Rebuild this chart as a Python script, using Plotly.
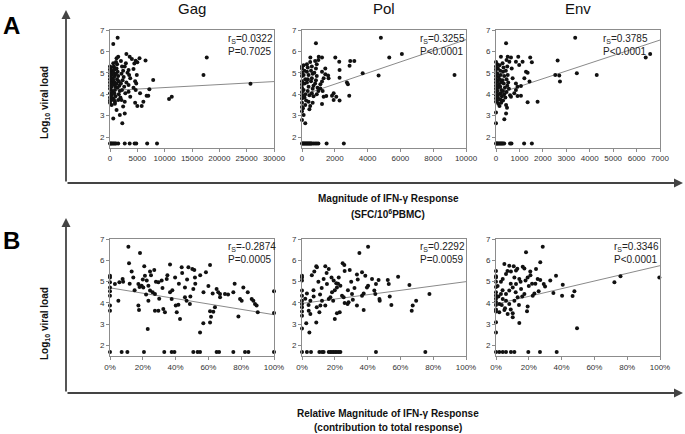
import plotly.graph_objects as go

W, H = 685, 434

# ---------------- data ----------------
panel_titles = ["Gag", "Pol", "Env"]

# Row A: absolute magnitude (SFC/10^6 PBMC) vs log10 viral load
gag_a_x = [1400, 600, 1500, 1200, 3000, 3600, 4000, 4700, 5400, 6500, 17700, 17100, 7900, 7200, 25700, 10800, 11300,
           6700, 7000, 6100, 5800, 5000, 4600, 5500, 4700, 4300, 4800, 4600, 4900, 3400, 4300, 4450, 5000, 2700,
           3500, 3700, 3400, 3400, 3700, 2700, 2400, 2700, 2250, 1800, 1200, 600, 300, 900, 1500, 2100,
           0, 0, 0, 0, 0, 0, 0, 0, 0, 0, 0, 0,
           200, 300, 400, 250, 350, 200, 400, 300, 200, 450, 300, 500, 200,
           600, 700, 800, 650, 900, 750, 600, 850, 700, 1000, 900, 800, 1000, 700, 900,
           1100, 1300, 1200, 1400, 1100, 1500, 1300, 1600, 1200, 1700, 1400, 1800, 1600, 1900,
           2000, 2200, 2400, 2100, 2500, 2300, 2000, 2600, 2200, 2800, 3000, 3200, 2900,
           0, 150, 300, 500, 700, 900, 1100, 1500, 2700, 3600, 4500, 4800, 6800, 8600]
gag_a_y = [6.64, 6.35, 5.75, 5.68, 5.88, 5.75, 5.64, 5.56, 5.68, 5.58, 5.72, 4.9, 4.66, 4.23, 4.49, 3.78, 3.88,
           3.93, 3.93, 3.65, 3.45, 3.45, 3.6, 4.04, 4.2, 4.3, 4.5, 4.6, 4.9, 5.13, 5.18, 5.44, 5.49, 5.29,
           4.9, 4.74, 4.43, 4.12, 3.88, 3.65, 3.42, 3.1, 2.64, 3.03, 3.26, 2.87, 3.5, 3.65, 3.73, 3.73,
           5.3, 5.15, 5.0, 4.85, 4.7, 4.55, 4.4, 4.25, 4.05, 3.85, 3.7, 3.6,
           5.25, 5.1, 5.0, 4.9, 4.75, 4.6, 4.5, 4.35, 4.2, 4.1, 3.95, 3.8, 3.7,
           5.45, 5.3, 5.15, 5.0, 4.9, 4.8, 4.65, 4.55, 4.45, 4.35, 4.2, 4.05, 3.9, 3.75, 3.55,
           5.5, 5.4, 5.2, 5.05, 4.95, 4.85, 4.7, 4.6, 4.5, 4.4, 4.3, 4.15, 4.0, 3.85,
           5.55, 5.3, 5.1, 4.95, 4.8, 4.65, 4.5, 4.35, 4.2, 4.05, 4.55, 5.0, 5.45,
           1.7, 1.7, 1.7, 1.7, 1.7, 1.7, 1.7, 1.7, 1.7, 1.7, 1.7, 1.7, 1.7, 1.7]

pol_a_x = [850, 4810, 6090, 5320, 9300, 4670, 3700, 3190, 2940, 2900, 2290, 2290, 2030, 2270, 2740, 2800, 2880,
           2290, 2090, 1930, 1930, 1830, 1480, 1320, 1220, 1260, 1120, 1120, 1220, 1320, 1620, 1420, 1220, 1420,
           1590, 1220, 1020, 510,
           0, 200, 100, 60,
           0, 0, 0, 0, 0, 0, 0, 0, 0, 0, 0, 0, 0,
           100, 150, 100, 200, 150, 100, 200, 150, 250, 200,
           300, 350, 300, 400, 350, 300, 400, 350, 450, 400, 500, 450,
           500, 600, 550, 650, 600, 550, 700, 650, 600, 700, 650,
           800, 900, 850, 750, 900, 850, 800, 950, 1000, 900, 1000,
           0, 50, 100, 150, 200, 250, 300, 350, 400, 450, 500, 550, 600, 700, 800, 900, 1000, 1500, 2550]
pol_a_y = [6.38, 6.64, 5.88, 5.72, 4.9, 4.87, 4.98, 5.55, 5.55, 5.33, 5.13, 4.77, 5.71, 5.52, 4.55, 4.46, 3.93,
           3.7, 3.88, 4.04, 3.73, 3.93, 3.92, 3.88, 3.54, 4.15, 4.27, 4.46, 4.59, 4.74, 4.74, 4.93, 5.05, 5.2,
           4.87, 5.72, 5.75, 5.71,
           2.8, 2.64, 3.03, 3.34,
           5.3, 5.2, 5.0, 4.85, 4.6, 4.45, 4.3, 4.1, 3.95, 3.8, 3.6, 3.4, 3.2,
           5.35, 5.1, 4.9, 4.7, 4.5, 4.2, 4.0, 3.85, 3.7, 3.5,
           5.4, 5.25, 5.05, 4.9, 4.7, 4.55, 4.35, 4.15, 3.95, 3.65, 3.45, 3.3,
           5.5, 5.3, 5.1, 4.95, 4.75, 4.6, 4.4, 4.25, 4.05, 3.9, 3.6,
           5.55, 5.4, 5.2, 5.0, 4.85, 4.65, 4.5, 4.3, 4.15, 4.0, 5.6,
           1.7, 1.7, 1.7, 1.7, 1.7, 1.7, 1.7, 1.7, 1.7, 1.7, 1.7, 1.7, 1.7, 1.7, 1.7, 1.7, 1.7, 1.7, 1.7]

env_a_x = [430, 3380, 6390, 6580, 2630, 2530, 2700, 2730, 3450, 4300, 1775, 1350, 1430, 1460, 1530, 1280, 1350,
           1210, 1065, 1065, 920, 850, 920, 850, 710, 670, 570, 640, 500, 210, 850, 990, 1135, 950, 470, 430,
           355, 0, 0, 780, 640, 430,
           0, 0, 0, 0, 0, 0, 0, 0, 0, 0, 0, 0, 0,
           50, 80, 60, 100, 70, 120, 90, 60, 110, 80, 50, 100,
           150, 180, 200, 160, 220, 180, 230, 200, 250, 180, 220, 150,
           280, 320, 300, 350, 280, 330, 380, 300, 350, 400, 300,
           450, 480, 420, 500, 450, 520, 480, 550, 450, 600,
           0, 30, 60, 100, 140, 180, 220, 260, 300, 350, 600, 660, 1200, 1530]
env_a_y = [6.38, 6.64, 5.72, 5.88, 5.57, 4.9, 4.87, 4.59, 4.98, 4.9, 3.65, 3.62, 4.59, 5.71, 5.49, 5.05, 5.0,
           4.74, 4.38, 3.93, 3.92, 4.2, 4.35, 4.5, 4.74, 5.2, 5.52, 5.71, 5.75, 5.75, 5.52, 5.36, 5.52, 5.75, 3.37, 3.1,
           2.83, 2.64, 3.15, 4.04, 3.88, 3.5,
           5.5, 5.3, 5.15, 5.0, 4.85, 4.7, 4.55, 4.4, 4.25, 4.1, 3.95, 3.8, 3.65,
           5.4, 5.2, 4.95, 4.8, 4.6, 4.45, 4.3, 4.15, 4.0, 3.85, 3.7, 3.55,
           5.35, 5.1, 4.9, 4.7, 4.55, 4.35, 4.2, 4.05, 3.9, 3.75, 3.6, 3.45,
           5.45, 5.25, 5.05, 4.85, 4.65, 4.5, 4.3, 4.15, 4.0, 3.85, 3.7,
           5.6, 5.3, 5.1, 4.9, 4.7, 4.55, 4.4, 4.25, 4.1, 3.95,
           1.7, 1.7, 1.7, 1.7, 1.7, 1.7, 1.7, 1.7, 1.7, 1.7, 1.7, 1.7, 1.7, 1.7]

# Row B: relative magnitude (% of total response) vs log10 viral load
gag_b_x = [11.2, 18.3, 11.6, 20.9, 36.6, 43.7, 47.8, 50.2, 51.4, 61, 58.5, 27, 24.4, 13.2, 14.2, 7.7, 5.7, 3,
           0, 0, 0, 0, 0, 0, 0, 0,
           5.1, 17.3, 19.3, 20.3, 21.3, 22.4, 23.4, 24.4, 17.3, 17.7, 23, 23.4, 27.4, 29.5, 31.5, 34.6, 36.6,
           39.7, 37.6, 40.1, 41.7, 40.7, 42.7, 32.5, 33.5, 29.5, 27.4,
           45.7, 45.7, 46.7, 48.7, 50.8, 51.8, 54.9, 56.9, 61, 61.6, 61, 63, 64, 65, 67.1, 67.1, 62.6, 70.1,
           75.2, 81.3, 79.3, 80.3, 78.3, 86.4, 87.4, 88.4, 89.4, 90.1, 100, 100,
           8, 12, 15, 18, 20, 22, 25, 26, 28, 30, 32, 35, 38, 42, 44, 47, 49, 52, 55, 57, 60, 66, 72, 76, 84,
           0, 7.1, 10.6, 20.7, 33.1, 37.6, 39.3, 50.8, 53.4, 54.9, 65, 66.5, 75.2, 82.3, 84.4, 100]
gag_b_y = [6.64, 6.34, 5.86, 5.72, 5.8, 5.67, 5.67, 5.59, 5.55, 5.78, 5.44, 5.55, 5.48, 5.48, 5.2, 5.13, 4.97, 4.89,
           5.28, 5.2, 4.97, 4.73, 4.55, 4.34, 3.88, 3.64,
           4.11, 4.89, 4.81, 4.73, 5.28, 5.05, 4.81, 4.58, 3.88, 3.67, 2.78, 4.11, 4.42, 4.97, 5.05, 5.13, 4.5,
           5.2, 4.19, 3.88, 3.92, 3.56, 3.25, 3.72, 3.56, 3.64, 3.64,
           4.73, 4.27, 4.11, 3.95, 4.66, 5.2, 2.62, 3.05, 3.09, 3.36, 3.61, 3.59, 3.8, 4.66, 4.42, 4.27, 4.45, 4.42,
           4.5, 4.73, 4.19, 4.11, 3.37, 4.19, 4.11, 3.95, 3.88, 3.56, 4.55, 3.53,
           5.0, 4.9, 4.6, 4.75, 5.1, 4.4, 5.3, 4.5, 5.0, 4.2, 4.7, 5.3, 4.6, 4.9, 5.4, 5.1, 4.3, 4.9, 5.3, 4.5, 4.8, 4.5, 4.4, 4.9, 4.5,
           1.7, 1.7, 1.7, 1.7, 1.7, 1.7, 1.7, 1.7, 1.7, 1.7, 1.7, 1.7, 1.7, 1.7, 1.7, 1.7]

pol_b_x = [40.3, 35, 8.7, 9.1, 7.5, 14.2, 16.3, 24.8, 25.8, 29.1, 33.5, 36.6, 38.6, 42.7, 46.7, 45.1, 52.3, 52.9,
           58.6, 65.5, 77.7, 69.6, 67.5, 66.9, 54.5, 53.5, 47.2, 47.4, 44.7, 44.1, 37.6, 40.3, 39.6, 37.6, 36.6,
           33.5, 30.5, 28.4, 27.8, 25.4, 24.4, 23, 21.3, 20, 20.9, 21.3, 23.4, 18.3, 17.3, 16.3, 14.2, 12.2, 11.2,
           10.6, 8.7, 5.1, 4.1, 4.5, 2.6, 3, 5.1, 7.1, 13.2, 15.2, 19.3, 22.4,
           0, 0, 0, 0, 0, 0, 0, 0, 0, 0, 0,
           6, 10, 12, 15, 18, 20, 22, 26, 28, 30, 32, 34, 2, 4, 7, 9, 11, 19, 26, 31,
           0, 3, 5.5, 10.6, 12.2, 13.2, 16.3, 17.3, 18.3, 19.3, 20.3, 21.3, 22.4, 23.4, 45.1, 75.2]
pol_b_y = [6.64, 6.34, 5.72, 5.67, 5.48, 5.72, 5.59, 5.86, 5.78, 5.55, 5.33, 5.44, 5.28, 5.13, 5.08, 4.89, 5.08, 4.89,
           5.23, 4.84, 4.42, 4.11, 3.88, 3.64, 3.91, 4.3, 4.19, 4.11, 4.42, 4.58, 3.67, 4.81, 4.73, 4.45, 4.34,
           3.88, 4.42, 4.03, 3.95, 4.27, 4.34, 3.56, 3.52, 3.25, 4.92, 4.73, 4.81, 4.5, 4.27, 4.19, 3.88, 4.11, 3.88,
           3.56, 3.09, 3.48, 3.64, 2.62, 3.05, 4.45, 4.11, 4.3, 5.13, 4.89, 5.05, 5.2,
           5.28, 5.2, 5.05, 4.58, 4.34, 4.1, 3.95, 3.8, 3.6, 3.4, 2.8,
           5.3, 5.0, 4.7, 5.4, 5.2, 4.6, 4.9, 5.5, 4.6, 5.0, 4.7, 5.1, 4.2, 3.9, 4.6, 3.8, 4.4, 4.1, 4.0, 4.15,
           1.7, 1.7, 1.7, 1.7, 1.7, 1.7, 1.7, 1.7, 1.7, 1.7, 1.7, 1.7, 1.7, 1.7, 1.7, 1.7]

env_b_x = [28.5, 18.3, 27, 5.1, 8.1, 10.8, 16.3, 17.3, 20.9, 24.4, 12.2, 9.1, 6.1, 4.1, 11.2, 14.2, 19.3, 25.4,
           27, 29.1, 29.9, 33.1, 36.6, 40.7, 40.3, 46.7, 47.8, 49.4, 35, 72.2, 75.9, 99.6, 23.4, 22.4, 19.3, 18.9,
           14.2, 10.2, 10.2, 7.1, 5.1, 2, 2, 4.1, 6.1, 8.1, 10.2, 12.2, 15.3, 17.3, 13.2, 11.2, 8.1, 6.1, 3,
           0, 0, 0, 0, 0, 0, 0, 0, 0, 0, 0, 0, 0, 0,
           1, 3, 4, 7, 9, 13, 15, 16, 20, 21, 24, 26, 1.5, 3.5, 5.5, 9, 12, 14, 22, 18,
           0, 2, 4.1, 6.1, 9.1, 11.2, 19.7, 26.8, 37]
env_b_y = [6.64, 6.38, 5.91, 5.83, 5.75, 5.72, 5.7, 5.62, 5.48, 5.59, 5.52, 5.48, 5.36, 5.13, 5.2, 5.13, 5.2, 5.13,
           5.08, 4.89, 4.77, 5.05, 5.28, 4.86, 4.34, 4.33, 4.55, 2.81, 4.47, 4.97, 5.25, 5.2, 4.45, 4.34, 3.83, 3.61,
           3.06, 3.33, 3.52, 3.48, 3.67, 3.56, 3.95, 4.19, 4.42, 4.58, 4.73, 4.89, 4.66, 4.42, 4.27, 4.11, 3.95, 4.11, 4.42,
           5.5, 5.25, 5.2, 5.0, 4.75, 4.5, 4.35, 4.2, 4.05, 3.9, 3.7, 3.6, 3.1, 2.62,
           4.8, 5.0, 4.6, 5.5, 4.9, 5.6, 5.0, 4.3, 4.8, 5.3, 4.9, 4.55, 4.3, 3.9, 3.75, 3.7, 4.5, 3.9, 4.9, 5.05,
           1.7, 1.7, 1.7, 1.7, 1.7, 1.7, 1.7, 1.7, 1.7]

# Regression lines (endpoints)
trend_x = {"gag_a": [0, 30000], "pol_a": [0, 10000], "env_a": [0, 7000],
           "gag_b": [0, 100], "pol_b": [0, 100], "env_b": [0, 100]}
trend_y = {"gag_a": [4.17, 4.59], "pol_a": [3.95, 6.55], "env_a": [4.0, 6.53],
           "gag_b": [4.71, 3.45], "pol_b": [3.98, 5.0], "env_b": [3.95, 5.75]}

rs_values = ["0.0322", "0.3255", "0.3785", "-0.2874", "0.2292", "0.3346"]
p_values = ["P=0.7025", "P<0.0001", "P<0.0001", "P=0.0005", "P=0.0059", "P<0.0001"]

x_ranges = [[0, 30000], [0, 10000], [0, 7000], [0, 100], [0, 100], [0, 100]]
x_tickvals = [[0, 5000, 10000, 15000, 20000, 25000, 30000],
              [0, 2000, 4000, 6000, 8000, 10000],
              [0, 1000, 2000, 3000, 4000, 5000, 6000, 7000],
              [0, 20, 40, 60, 80, 100], [0, 20, 40, 60, 80, 100], [0, 20, 40, 60, 80, 100]]
x_ticktext = [["0", "5000", "10000", "15000", "20000", "25000", "30000"],
              ["0", "2000", "4000", "6000", "8000", "10000"],
              ["0", "1000", "2000", "3000", "4000", "5000", "6000", "7000"],
              ["0%", "20%", "40%", "60%", "80%", "100%"],
              ["0%", "20%", "40%", "60%", "80%", "100%"],
              ["0%", "20%", "40%", "60%", "80%", "100%"]]
y_tickvals = [2, 3, 4, 5, 6, 7]

# ---------------- layout geometry (pixels) ----------------
def fx(p):
    return p / W

def fy(p):
    return 1 - p / H

col_px = [(110, 274), (302, 466), (496, 660)]
row_px = [(30, 147.7), (239, 356.3)]
stat_x_px = [226, 418, 601, 226, 418, 612]
stat_top_px = [31, 239]

FONT = "Liberation Sans, Arial, sans-serif"

series = [(gag_a_x, gag_a_y, "gag_a"), (pol_a_x, pol_a_y, "pol_a"), (env_a_x, env_a_y, "env_a"),
          (gag_b_x, gag_b_y, "gag_b"), (pol_b_x, pol_b_y, "pol_b"), (env_b_x, env_b_y, "env_b")]

fig = go.Figure()
annotations = []
layout_axes = {}

for i, (xs, ys, key) in enumerate(series):
    r, c = divmod(i, 3)
    n = i + 1
    xa = "x" if n == 1 else f"x{n}"
    ya = "y" if n == 1 else f"y{n}"
    fig.add_trace(go.Scatter(x=trend_x[key], y=trend_y[key], mode="lines",
                             line=dict(color="#8a8a8a", width=1), xaxis=xa, yaxis=ya,
                             showlegend=False, hoverinfo="skip", cliponaxis=False))
    fig.add_trace(go.Scatter(x=xs, y=ys, mode="markers",
                             marker=dict(color="#111111", size=4, line=dict(width=0)),
                             xaxis=xa, yaxis=ya, showlegend=False, cliponaxis=False))
    common = dict(showline=True, linecolor="#8c8c8c", linewidth=1, mirror=True,
                  ticks="outside", ticklen=3, tickcolor="#8c8c8c", tickwidth=1,
                  showgrid=False, zeroline=False, automargin=False,
                  tickfont=dict(family=FONT, size=8, color="#333333"))
    xkey = "xaxis" if n == 1 else f"xaxis{n}"
    ykey = "yaxis" if n == 1 else f"yaxis{n}"
    layout_axes[xkey] = dict(common, domain=[fx(col_px[c][0]), fx(col_px[c][1])], range=x_ranges[i],
                             tickvals=x_tickvals[i], ticktext=x_ticktext[i], tickangle=0, anchor=ya)
    layout_axes[ykey] = dict(common, domain=[fy(row_px[r][1]), fy(row_px[r][0])], range=[1.5, 7],
                             tickvals=y_tickvals, anchor=xa)
    annotations.append(dict(text=f"r<sub>S</sub>={rs_values[i]}<br>{p_values[i]}",
                            x=fx(stat_x_px[i]), y=fy(stat_top_px[r]),
                            xref="paper", yref="paper", xanchor="left", yanchor="top", align="left",
                            showarrow=False, font=dict(family=FONT, size=10, color="#222")))

# Panel titles
for c, t in enumerate(panel_titles):
    annotations.append(dict(text=t, x=fx((col_px[c][0] + col_px[c][1]) / 2), y=fy(8),
                            xref="paper", yref="paper", xanchor="center", yanchor="middle", showarrow=False,
                            font=dict(family=FONT, size=15, color="#111")))

# Row letters
for letter, ypx in [("A", 25), ("B", 240)]:
    annotations.append(dict(text=f"<b>{letter}</b>", x=fx(11), y=fy(ypx), xref="paper", yref="paper",
                            xanchor="center", yanchor="middle", showarrow=False,
                            font=dict(family=FONT, size=24, color="#000")))

# Y axis titles
for ypx in [103, 324]:
    annotations.append(dict(text="<b>Log<sub>10</sub> viral load</b>", x=fx(45), y=fy(ypx), xref="paper",
                            yref="paper", xanchor="center", yanchor="middle", textangle=-90, showarrow=False,
                            font=dict(family=FONT, size=10, color="#111")))

# X axis titles
x_titles = [("<b>Magnitude of IFN-γ Response</b>", 198), ("<b>(SFC/10<sup>6</sup>PBMC)</b>", 214),
            ("<b>Relative Magnitude of IFN-γ Response</b>", 413), ("<b>(contribution to total response)</b>", 427)]
for txt, ypx in x_titles:
    annotations.append(dict(text=txt, x=fx(388), y=fy(ypx), xref="paper", yref="paper",
                            xanchor="center", yanchor="middle", showarrow=False,
                            font=dict(family=FONT, size=10, color="#111")))

# Big L-shaped arrows
for top, base in [(10, 183), (218, 393)]:
    annotations.append(dict(text="", x=fx(66), y=fy(top), xref="paper", yref="paper",
                            ax=0, ay=base - top, showarrow=True, arrowhead=2, arrowsize=1,
                            arrowwidth=1.8, arrowcolor="#444"))
    annotations.append(dict(text="", x=fx(683), y=fy(base), xref="paper", yref="paper",
                            ax=-(683 - 66), ay=0, showarrow=True, arrowhead=2, arrowsize=1,
                            arrowwidth=1.8, arrowcolor="#444"))

fig.update_layout(width=W, height=H, margin=dict(l=0, r=0, t=0, b=0, autoexpand=False),
                  paper_bgcolor="white", plot_bgcolor="white",
                  annotations=annotations, **layout_axes)

fig.write_html("out.html", config={"displayModeBar": False},
               post_script="document.body.style.margin='0px';document.documentElement.style.overflow='hidden';")
